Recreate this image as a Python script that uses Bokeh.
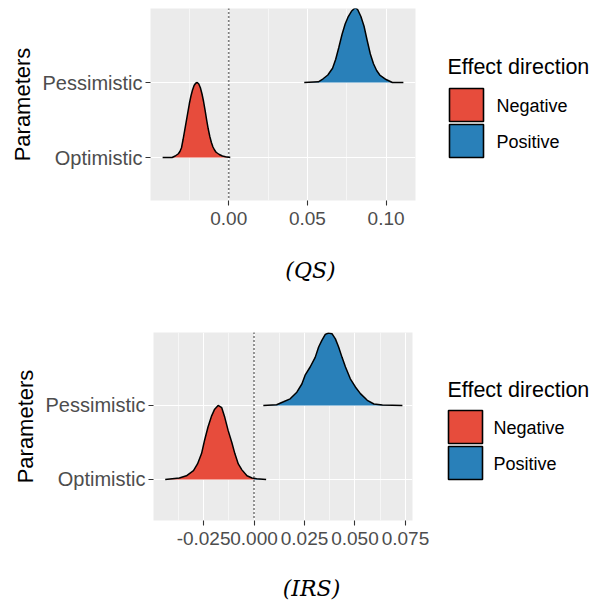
import numpy as np
from bokeh.plotting import figure
from bokeh.models import FixedTicker, NumeralTickFormatter, Span, Range1d
from bokeh.layouts import column, row
from bokeh.core.properties import value
from bokeh.embed import file_html
from bokeh.resources import INLINE

# ---------------- data ----------------
rows = ["Optimistic", "Pessimistic"]
directions = ["Negative", "Positive"]
dir_colors = ["#E74C3C", "#2980B9"]
legend_title = "Effect direction"
captions = ["(QS)", "(IRS)"]

# (QS) ridge densities (height in row units)
qs_opt_x = [-0.042, -0.036, -0.034, -0.032, -0.031, -0.030, -0.029, -0.028, -0.027, -0.026,
            -0.025, -0.024, -0.023, -0.022, -0.021, -0.020, -0.019, -0.018, -0.017, -0.016,
            -0.015, -0.014, -0.013, -0.012, -0.011, -0.010, -0.009, -0.008, -0.006, -0.004,
            -0.002, 0.000, 0.001]
qs_opt_h = [0.0, 0.0, 0.02, 0.05, 0.08, 0.13, 0.24, 0.36, 0.48, 0.60,
            0.72, 0.82, 0.90, 0.96, 0.99, 1.00, 0.98, 0.93, 0.85, 0.75,
            0.63, 0.50, 0.38, 0.28, 0.20, 0.14, 0.10, 0.07, 0.04, 0.02,
            0.01, 0.005, 0.0]
qs_pes_x = [0.048, 0.057, 0.060, 0.063, 0.066, 0.068, 0.070, 0.072, 0.074, 0.076,
            0.078, 0.080, 0.081, 0.082, 0.084, 0.086, 0.088, 0.090, 0.092, 0.094,
            0.096, 0.100, 0.104, 0.111]
qs_pes_h = [0.0, 0.01, 0.05, 0.10, 0.19, 0.31, 0.47, 0.64, 0.78, 0.88,
            0.95, 0.99, 0.99, 0.97, 0.88, 0.75, 0.56, 0.38, 0.25, 0.16,
            0.10, 0.04, 0.0, 0.0]

# (IRS) ridge densities
irs_opt_x = [-0.044, -0.037, -0.0335, -0.030, -0.028, -0.026, -0.0245, -0.0228, -0.021, -0.0195,
             -0.0178, -0.016, -0.0145, -0.0128, -0.011, -0.0095, -0.0078, -0.006, -0.0035, -0.001,
             0.0013, 0.006]
irs_opt_h = [0.0, 0.02, 0.05, 0.12, 0.21, 0.35, 0.53, 0.71, 0.86, 0.95,
             1.00, 0.97, 0.84, 0.66, 0.50, 0.35, 0.21, 0.13, 0.05, 0.02,
             0.01, 0.0]
irs_pes_x = [0.0046, 0.0112, 0.0146, 0.0179, 0.0212, 0.0237, 0.0253, 0.0278, 0.0303, 0.0320,
             0.0336, 0.0353, 0.0369, 0.0386, 0.0403, 0.0419, 0.0436, 0.0453, 0.0477, 0.0502,
             0.0527, 0.0561, 0.0594, 0.0636, 0.0735]
irs_pes_h = [0.0, 0.01, 0.05, 0.09, 0.18, 0.29, 0.41, 0.52, 0.65, 0.79,
             0.88, 0.96, 0.98, 0.97, 0.90, 0.79, 0.65, 0.52, 0.36, 0.25,
             0.16, 0.07, 0.02, 0.005, 0.0]

qs_major = [0.0, 0.05, 0.10]
qs_minor = [-0.025, 0.025, 0.075]
irs_major = [-0.025, 0.0, 0.025, 0.05, 0.075]
irs_minor = [-0.0375, -0.0125, 0.0125, 0.0375, 0.0625]

FONT = "Liberation Sans"
W = 598
MAIN_W = 440


def blank_fig(w, h, x0, y0, ft=0, fb=0):
    """Figure without axes; its frame spans page rows y0+ft .. y0+h-fb and
    data units equal page pixels."""
    f = figure(width=w, height=h, x_range=Range1d(x0, x0 + w),
               y_range=Range1d(y0 + h - fb, y0 + ft),
               output_backend="svg", toolbar_location=None,
               x_axis_location=None, y_axis_location=None,
               min_border=0, min_border_left=0, min_border_right=0,
               min_border_top=ft, min_border_bottom=fb)
    f.grid.visible = False
    f.outline_line_color = None
    f.background_fill_color = "white"
    f.border_fill_color = "white"
    return f


def add_ridge(p, row_pos, xs, hs):
    x = np.asarray(xs, float)
    h = np.asarray(hs, float)
    h0 = float(np.interp(0.0, x, h))
    parts = []
    if x.min() < 0:
        m = x < 0
        xn = np.append(x[m], 0.0) if x.max() > 0 else x[m]
        hn = np.append(h[m], h0) if x.max() > 0 else h[m]
        parts.append((xn, hn, dir_colors[0]))
    if x.max() > 0:
        m = x > 0
        xp = np.insert(x[m], 0, 0.0) if x.min() < 0 else x[m]
        hp = np.insert(h[m], 0, h0) if x.min() < 0 else h[m]
        parts.append((xp, hp, dir_colors[1]))
    for xx, hh, c in parts:
        p.varea(x=xx, y1=np.full(len(xx), row_pos), y2=row_pos + hh, fill_color=c)
    p.line(x=x, y=row_pos + h, line_color="black", line_width=1.5)


def make_main(ridges, xr, yr, majors, minors, fmt, fl, fw, ft, fh, height):
    p = figure(width=MAIN_W, height=height, x_range=Range1d(*xr), y_range=Range1d(*yr),
               output_backend="svg", toolbar_location=None,
               min_border_left=fl, min_border_right=MAIN_W - fl - fw,
               min_border_top=ft, min_border_bottom=height - ft - fh)
    p.background_fill_color = "#EBEBEB"
    p.border_fill_color = "white"
    p.outline_line_color = None

    xt = FixedTicker(ticks=majors, minor_ticks=minors)
    p.xaxis.ticker = xt
    p.xgrid.ticker = xt
    p.xaxis.formatter = NumeralTickFormatter(format=fmt)
    p.xgrid.grid_line_color = "white"
    p.xgrid.grid_line_width = 1.1
    p.xgrid.minor_grid_line_color = "white"
    p.xgrid.minor_grid_line_width = 0.55

    yt = FixedTicker(ticks=[1, 2])
    p.yaxis.ticker = yt
    p.ygrid.ticker = yt
    p.ygrid.grid_line_color = "white"
    p.ygrid.grid_line_width = 1.1
    p.yaxis.major_label_overrides = {1: rows[0], 2: rows[1]}
    p.yaxis.axis_label = "Parameters"
    p.yaxis.axis_label_text_font = FONT
    p.yaxis.axis_label_text_font_size = "22px"
    p.yaxis.axis_label_text_font_style = "normal"
    p.yaxis.axis_label_text_color = "black"
    p.yaxis.axis_label_standoff = 4

    for ax in (p.xaxis[0], p.yaxis[0]):
        ax.axis_line_color = None
        ax.major_tick_line_color = "#333333"
        ax.major_tick_line_width = 1.1
        ax.major_tick_out = 5
        ax.major_tick_in = 0
        ax.minor_tick_line_color = None
        ax.major_label_text_font = FONT
        ax.major_label_text_color = "#4D4D4D"
    p.xaxis.major_label_text_font_size = "19px"
    p.yaxis.major_label_text_font_size = "20px"
    p.xaxis.major_label_standoff = 6
    p.yaxis.major_label_standoff = 3

    for row_pos, xs, hs in ridges:
        add_ridge(p, row_pos, xs, hs)

    p.add_layout(Span(location=0, dimension="height", line_color="black",
                      line_width=1.6, line_dash="1 3"))
    return p


def make_legend(h, y0, ft, fh, title_y, key_x, key_top, label_x):
    f = blank_fig(W - MAIN_W, h, MAIN_W, y0, ft=ft, fb=h - ft - fh)
    key_w, key_h, key_gap = 34, 33, 3
    f.text(x=[447], y=[title_y], text=[legend_title], text_font=value(FONT),
           text_font_size="21.5px", text_color="black",
           text_align="left", text_baseline="middle")
    lefts = [key_x for _ in directions]
    tops = [key_top + i * (key_h + key_gap) for i in range(len(directions))]
    bottoms = [t + key_h for t in tops]
    f.quad(left=lefts, right=[l + key_w for l in lefts], top=tops, bottom=bottoms,
           fill_color=dir_colors, line_color="black", line_width=1.6)
    f.text(x=[label_x] * len(directions), y=[(t + b) / 2 + 1 for t, b in zip(tops, bottoms)],
           text=directions, text_font=value(FONT), text_font_size="18px",
           text_color="black", text_align="left", text_baseline="middle")
    return f


def make_caption(text, h, y0, cx, cy):
    f = blank_fig(W, h, 0, y0)
    f.text(x=[cx], y=[cy], text=[text], text_font=value("DejaVu Serif"),
           text_font_style="italic", text_font_size="22px", text_color="black",
           text_align="center", text_baseline="middle")
    return f


# top block: page y 0..240, caption 240..300
p1 = make_main([(2, qs_pes_x, qs_pes_h), (1, qs_opt_x, qs_opt_h)],
               (-0.0497, 0.1187), (0.4267, 2.987), qs_major, qs_minor, "0.00",
               150, 265, 8, 192, 240)
l1 = make_legend(240, 0, 8, 192, 66, 449, 88, 496)
c1 = make_caption(captions[0], 60, 240, 310, 270)

# bottom block: page y 300..556, caption 556..607
p2 = make_main([(2, irs_pes_x, irs_pes_h), (1, irs_opt_x, irs_opt_h)],
               (-0.0498, 0.0785), (0.446, 2.986), irs_major, irs_minor, "0.000",
               153, 259, 32, 188, 256)
l2 = make_legend(256, 300, 32, 188, 389, 448, 410, 493)
c2 = make_caption(captions[1], 51, 556, 311, 588)

layout = column(row(p1, l1, spacing=0), c1, row(p2, l2, spacing=0), c2, spacing=0)
open("out.html", "w").write(file_html(layout, INLINE))
